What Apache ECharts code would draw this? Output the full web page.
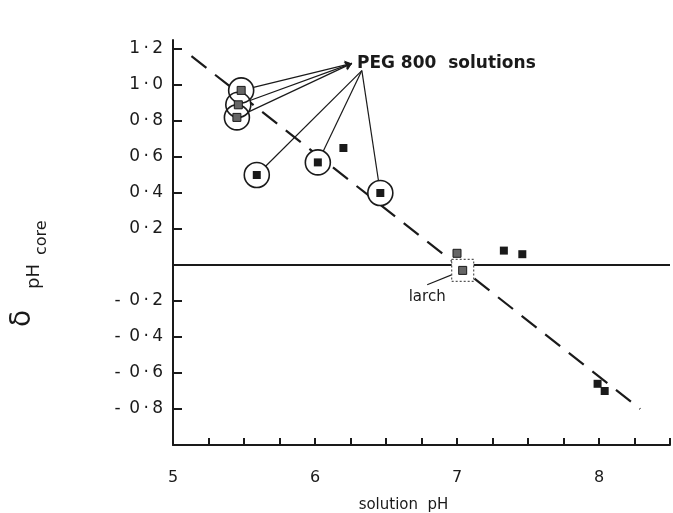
<!DOCTYPE html>
<html>
<head>
<meta charset="utf-8">
<title>delta pH core vs solution pH</title>
<script src="https://cdn.jsdelivr.net/npm/echarts@6/dist/echarts.min.js"></script>
<style>html,body{margin:0;padding:0;background:#fff;} #chart{width:673px;height:513px;}</style>
</head>
<body>
<div id="chart"></div>
<script>
// values
const pegHatchX = [5.48, 5.46, 5.45];
const pegHatchY = [0.97, 0.89, 0.82];
const pegSolidX = [5.59, 6.02, 6.46];
const pegSolidY = [0.50, 0.57, 0.40];
const otherX = [6.20, 7.33, 7.46, 7.99, 8.04];
const otherY = [0.65, 0.08, 0.06, -0.66, -0.70];
const larchX = [7.00, 7.04];
const larchY = [0.065, -0.03];
const fitX = [5.13, 8.29];
const fitY = [1.16, -0.80];
const xLabels = [5, 6, 7, 8];

// where the annotation leaders meet (data units)
const pegLabelAt = [6.26, 1.12];
const pegLowerAt = [6.33, 1.08];
const larchLabelAt = [6.79, -0.11];

const FONT = 'DejaVu Sans';
const INK = '#1a1a1a';

const pts = (xs, ys) => xs.map((x, i) => [x, ys[i]]);
const pegHatch = pts(pegHatchX, pegHatchY);
const pegSolid = pts(pegSolidX, pegSolidY);
const pegAll = pegHatch.concat(pegSolid);
const larchBox = [[larchX[1], larchY[1]]];

function yLabel(v) {
  if (Math.abs(v) < 1e-9 || v <= -1 || v > 1.21) return '';
  const s = Math.abs(v).toFixed(1).replace('.', '\u2009·\u2009');
  return v < 0 ? '-\u2002' + s : s;
}

const option = {
  animation: false,
  backgroundColor: '#fff',
  grid: [
    { left: 173, right: 3, top: 40, bottom: 68, outerBoundsMode: 'none' },
    { left: 173, right: 3, top: 49, bottom: 68, outerBoundsMode: 'none' }
  ],
  xAxis: [
    {
      gridIndex: 0, type: 'value', min: 5, max: 8.5, interval: 0.25,
      axisLine: { onZero: false, lineStyle: { color: INK, width: 2 } },
      axisTick: { inside: true, length: 7, lineStyle: { color: INK, width: 2 } },
      splitLine: { show: false },
      axisLabel: {
        margin: 25, color: INK, fontFamily: FONT, fontSize: 16,
        formatter: v => xLabels.includes(v) ? String(v) : ''
      },
      name: 'solution  pH', nameLocation: 'middle', nameGap: 53,
      nameTextStyle: { color: INK, fontFamily: FONT, fontSize: 15, padding: [0, 36, 0, 0] }
    },
    { gridIndex: 1, type: 'value', min: 5, max: 8.5, show: false }
  ],
  yAxis: [
    {
      gridIndex: 0, type: 'value', min: -1, max: 1.25,
      axisLine: { onZero: false, lineStyle: { color: INK, width: 2 } },
      axisTick: { show: false }, axisLabel: { show: false }, splitLine: { show: false }
    },
    {
      gridIndex: 1, type: 'value', min: -1, max: 1.2, interval: 0.2,
      axisLine: { show: false, onZero: false },
      axisTick: { inside: true, length: 9, lineStyle: { color: INK, width: 2 } },
      splitLine: { show: false },
      axisLabel: { margin: 10, color: INK, fontFamily: FONT, fontSize: 17, formatter: yLabel }
    }
  ],
  graphic: [
    { type: 'text', x: 37, y: 327, rotation: Math.PI / 2,
      style: { text: 'δ', font: '28px ' + FONT, fill: INK, align: 'left', verticalAlign: 'bottom' } },
    { type: 'text', x: 43, y: 289, rotation: Math.PI / 2,
      style: { text: 'pH', font: '18px ' + FONT, fill: INK, align: 'left', verticalAlign: 'bottom' } },
    { type: 'text', x: 50, y: 255, rotation: Math.PI / 2,
      style: { text: 'core', font: '16px ' + FONT, fill: INK, align: 'left', verticalAlign: 'bottom' } }
  ],
  series: [
    {
      // dashed regression line and the zero line
      type: 'line', z: 2, symbol: 'none',
      data: pts(fitX, fitY),
      lineStyle: { color: INK, width: 2.2, type: [19, 11], opacity: 1 },
      markLine: {
        silent: true, symbol: 'none', label: { show: false },
        lineStyle: { color: INK, type: 'solid', width: 2, opacity: 1 },
        data: [{ yAxis: 0 }]
      }
    },
    {
      // leaders from the top three circles, arrow at the label
      type: 'lines', coordinateSystem: 'cartesian2d', z: 3,
      symbol: ['none', 'arrow'], symbolSize: 7,
      lineStyle: { color: INK, width: 1.2, opacity: 1 },
      data: pegHatch.map(p => ({ coords: [p, pegLabelAt] }))
    },
    {
      type: 'lines', coordinateSystem: 'cartesian2d', z: 3,
      lineStyle: { color: INK, width: 1.2, opacity: 1 },
      data: pegSolid.map(p => ({ coords: [pegLowerAt, p] }))
        .concat([{ coords: [larchLabelAt, larchBox[0]] }])
    },
    {
      // white discs hide whatever runs under the circles
      type: 'scatter', z: 4, symbol: 'circle', symbolSize: 25,
      itemStyle: { color: '#fff', opacity: 1 },
      data: pegAll
    },
    {
      type: 'scatter', z: 5, symbol: 'circle', symbolSize: 25,
      itemStyle: { color: 'rgba(0,0,0,0)', borderColor: INK, borderWidth: 1.6, opacity: 1 },
      data: pegAll
    },
    {
      type: 'scatter', z: 5, symbol: 'rect', symbolSize: 22,
      itemStyle: { color: '#fff', borderColor: '#555', borderWidth: 1.2, borderType: [2, 2], opacity: 1 },
      data: larchBox
    },
    {
      type: 'scatter', z: 6, symbol: 'rect', symbolSize: 8,
      itemStyle: { color: '#666', borderColor: INK, borderWidth: 1, opacity: 1 },
      data: pegHatch.concat(pts(larchX, larchY))
    },
    {
      type: 'scatter', z: 6, symbol: 'rect', symbolSize: 8,
      itemStyle: { color: INK, opacity: 1 },
      data: pegSolid.concat(pts(otherX, otherY))
    },
    {
      // annotation text
      type: 'scatter', z: 7, symbolSize: 0, silent: true,
      itemStyle: { opacity: 1 },
      data: [
        { value: pegLabelAt, label: { show: true, position: 'right', distance: 5, formatter: 'PEG 800  solutions',
          fontFamily: FONT, fontWeight: 'bold', fontSize: 17, color: INK } },
        { value: larchLabelAt, label: { show: true, position: 'bottom', distance: 5, formatter: 'larch',
          fontFamily: FONT, fontSize: 15, color: INK } }
      ]
    }
  ]
};

const chart = echarts.init(document.getElementById('chart'));
chart.setOption(option);
</script>
</body>
</html>
